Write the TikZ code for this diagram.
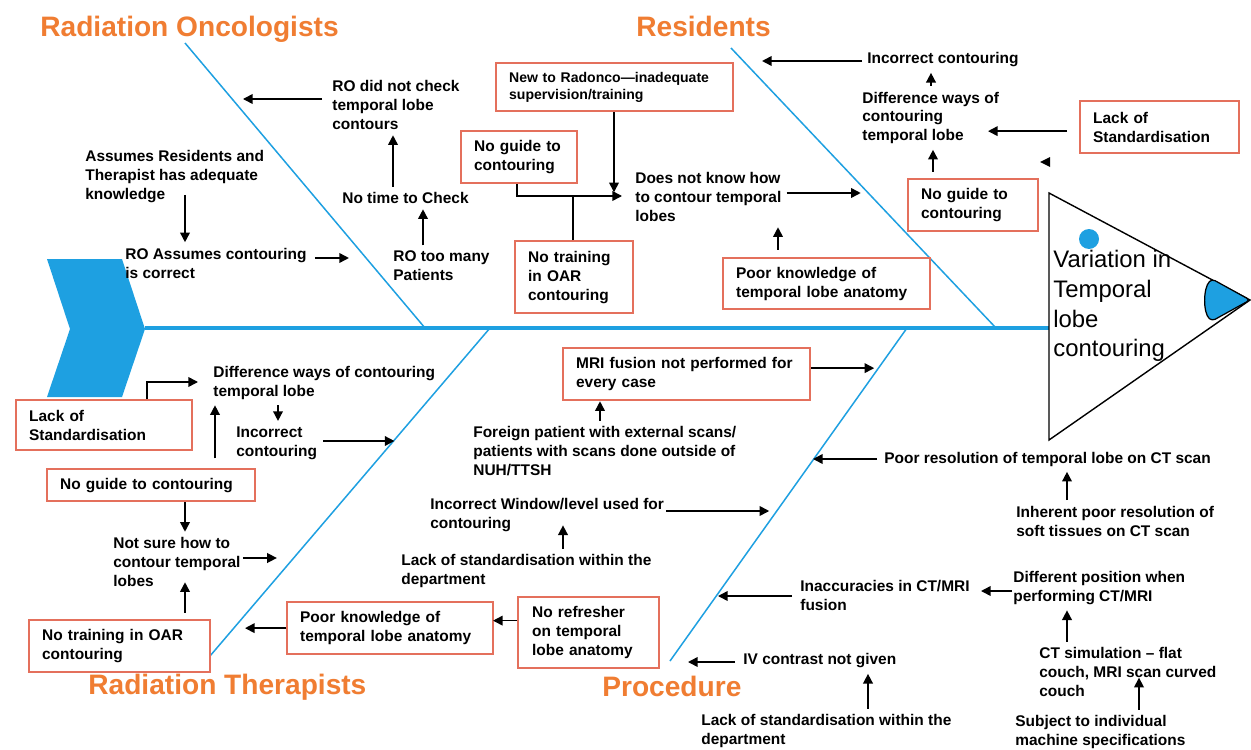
\documentclass[tikz,border=0pt]{standalone}
\usepackage{fontspec}
\setmainfont{Liberation Sans}
\usetikzlibrary{arrows.meta, calc}
\definecolor{fishblue}{RGB}{30,160,225}
\definecolor{causered}{RGB}{228,112,92}
\definecolor{grouporange}{RGB}{240,125,50}

\begin{document}
\begin{tikzpicture}[x=0.02cm, y=-0.02cm,
	txt/.style={font=\bfseries\fontsize{8.8}{10.8}\selectfont, align=left, inner xsep=0pt, inner ysep=3pt, anchor=west},
	cause/.style={draw=causered, line width=1.3pt, font=\bfseries\fontsize{8.8}{10.8}\selectfont, align=left, inner xsep=0.26cm, inner ysep=0pt, anchor=north west},
	group/.style={font=\bfseries\fontsize{16}{19}\selectfont, text=grouporange, inner sep=0pt, anchor=west},
	bone/.style={fishblue, line width=0.85pt},
	arr/.style={-{Triangle[length=5.5pt, width=5.5pt]}, line width=0.9pt}]
\fill[white] (0,0) rectangle (1251,750);
\useasboundingbox (0,0) rectangle (1251,750);

\fill[fishblue] (47,259) -- (122,259) -- (145,329) -- (122,397) -- (47,397) -- (70,329) -- cycle;
\coordinate (tail) at (145,328);
\coordinate (mouth) at (1049,328);
\draw[fishblue, line width=2pt] (tail) -- (mouth);
\draw[bone] (185,43) -- (425,328);
\draw[bone] (731,48) -- (996,328);
\draw[bone] (490,328) -- (210,656);
\draw[bone] (907,328) -- (670,661);

\draw[line width=0.8pt] (1049,193) -- (1250,300) -- (1049,440) -- cycle;
\filldraw[fill=fishblue, line width=0.7pt, rounded corners=2pt] (1250,300) -- (1212,279) .. controls (1203,288) and (1203,313) .. (1212,321) -- cycle;
\fill[fishblue] (1089,239) circle (0.2cm);
\node[font=\fontsize{13.6}{17}\selectfont, align=left, inner sep=0pt, anchor=west] (effect) at (1053,306) {Variation in\\Temporal\\lobe\\contouring};

\node[group] (gRO) at (40,29) {Radiation Oncologists};
\node[group] (gRes) at (636,26) {Residents};
\node[group] (gRT) at (88,687) {Radiation Therapists};
\node[group] (gProc) at (602,686) {Procedure};

\node[txt] (roCheck) at (332,105) {RO did not check\\temporal lobe\\contours};
\node[txt] (roTime) at (342,198) {No time to Check};
\node[txt] (roMany) at (393,266) {RO too many\\Patients};
\node[txt] (roKnow) at (85,177) {Assumes Residents and\\Therapist has adequate\\knowledge};
\node[txt] (roAssume) at (125,263) {RO Assumes contouring\\is correct};

\node[cause, text width=4.22cm, minimum height=0.96cm, font=\bfseries\fontsize{8}{9.6}\selectfont] (resNew) at (495,62) {New to Radonco—inadequate\\supervision/training};
\node[cause, text width=1.8cm, minimum height=1.04cm] (resGuide) at (460,130) {No guide to\\contouring};
\node[cause, text width=1.84cm, minimum height=1.44cm] (resTrain) at (514,240) {No training\\in OAR\\contouring};
\node[txt] (resHow) at (635,197) {Does not know how\\to contour temporal\\lobes};
\node[cause, text width=3.62cm, minimum height=1.02cm] (resAnat) at (722,257) {Poor knowledge of\\temporal lobe anatomy};
\node[txt] (resWrong) at (867,60) {Incorrect contouring};
\node[txt] (resWays) at (862,118) {Difference ways of\\contouring\\temporal lobe};
\node[cause, text width=2.66cm, minimum height=1.04cm] (resStd) at (1079,100) {Lack of\\Standardisation};
\node[cause, text width=2.08cm, minimum height=1.04cm] (resGuideB) at (907,178) {No guide to\\contouring};

\node[cause, text width=3cm, minimum height=1cm] (rtStd) at (15,399) {Lack of\\Standardisation};
\node[txt] (rtWays) at (213,383) {Difference ways of contouring\\temporal lobe};
\node[txt] (rtWrong) at (236,443) {Incorrect\\contouring};
\node[cause, text width=3.64cm, minimum height=0.64cm] (rtGuide) at (46,468) {No guide to contouring};
\node[txt] (rtSure) at (113,562) {Not sure how to\\contour temporal\\lobes};
\node[cause, text width=3.1cm, minimum height=1.04cm] (rtTrain) at (28,619) {No training in OAR\\contouring};
\node[cause, text width=3.6cm, minimum height=1.04cm] (rtAnat) at (286,601) {Poor knowledge of\\temporal lobe anatomy};
\node[cause, text width=2.26cm, minimum height=1.42cm, inner xsep=0.28cm] (rtRefresh) at (517,596) {No refresher\\on temporal\\lobe anatomy};

\node[cause, text width=4.42cm, minimum height=1.04cm] (prMri) at (562,347) {MRI fusion not performed for\\every case};
\node[txt] (prForeign) at (473,451) {Foreign patient with external scans/\\patients with scans done outside of\\NUH/TTSH};
\node[txt] (prWindow) at (430,515) {Incorrect Window/level used for\\contouring};
\node[txt] (prStd) at (401,571) {Lack of standardisation within the\\department};
\node[txt] (prRes) at (884,459) {Poor resolution of temporal lobe on CT scan};
\node[txt] (prSoft) at (1016,521) {Inherent poor resolution of\\soft tissues on CT scan};
\node[txt] (prFusion) at (800,595) {Inaccuracies in CT/MRI\\fusion};
\node[txt] (prPos) at (1013,588) {Different position when\\performing CT/MRI};
\node[txt] (prSim) at (1039,672) {CT simulation – flat\\couch, MRI scan curved\\couch};
\node[txt] (prMach) at (1015,732) {Subject to individual\\machine specifications};
\node[txt] (prIV) at (743,661) {IV contrast not given};
\node[txt] (prStdB) at (701,731) {Lack of standardisation within the\\department};

\draw[arr] ($(roCheck.west)+(-10,-6)$) -- ++(-79,0);
\draw[arr] (roTime.north -| 393,0) -- (roCheck.south -| 393,0);
\draw[arr] (roMany.north -| 423,0) -- (roTime.south -| 423,0);
\draw[arr] ($(roKnow.south -| 185,0)+(0,-14)$) -- (roAssume.north -| 185,0);
\draw[arr] ($(roAssume.east)+(8,-5)$) -- ++(34,0);

\draw[arr] (resNew.south -| 614,0) -- ++(0,80);
\draw[arr] (resGuide.south -| 517,0) |- ($(resHow.west)+(-13,-1)$);
\draw[line width=0.9pt] (resTrain.north -| 573,0) -- ++(0,-44);
\draw[arr] ($(resHow.east)+(5,-4)$) -- ++(74,0);
\draw[arr, shorten <=4pt] (resAnat.north -| 778,0) -- (resHow.south -| 778,0);
\draw[arr] ($(resWrong.west)+(-5,1)$) -- ++(-100,0);
\draw[arr] (resWays.north -| 931,0) -- (resWrong.south -| 931,0);
\draw[arr] ($(resStd.west)+(-12,4)$) -- ++(-79,0);
\draw[arr, shorten <=3.5pt] (resGuideB.north -| 933,0) -- (resWays.south -| 933,0);
\fill (1040,162) -- ++(10,-5) -- ++(0,10) -- cycle;

\draw[arr] (rtStd.north -| 147,0) |- ($(rtWays.west)+(-15,-1)$);
\draw[arr] (rtWays.south -| 278,0) -- (rtWrong.north -| 278,0);
\draw[arr] ($(rtWrong.east)+(6,-2)$) -- ++(71,0);
\draw[arr, shorten <=5.5pt] (rtGuide.north -| 215,0) -- (rtWays.south -| 215,0);
\draw[arr] (rtGuide.south -| 185,0) -- (rtSure.north -| 185,0);
\draw[arr] ($(rtSure.east)+(2,-4)$) -- ++(34,0);
\draw[arr, shorten <=3.5pt] (rtTrain.north -| 185,0) -- ($(rtSure.south -| 185,0)+(0,-10)$);
\draw[arr] (rtAnat.west) -- ++(-41,0);
\draw[arr] ($(rtRefresh.west)+(0,-12)$) -- ++(-24,0);

\draw[arr] ($(prMri.east)+(0,-6)$) -- ++(63,0);
\draw[arr] (prForeign.north -| 600,0) -- (prMri.south -| 600,0);
\draw[arr] ($(prWindow.east)+(2,-4)$) -- ++(103,0);
\draw[arr] (prStd.north -| 563,0) -- ($(prWindow.south -| 563,0)+(0,-12)$);
\draw[arr] ($(prRes.west)+(-7,0)$) -- ++(-64,0);
\draw[arr] (prSoft.north -| 1067,0) -- (prRes.south -| 1067,0);
\draw[arr] ($(prFusion.west)+(-8,1)$) -- ++(-74,0);
\draw[arr] ($(prPos.west)+(-1,3)$) -- ++(-31,0);
\draw[arr] (prSim.north -| 1067,0) -- (prPos.south -| 1067,0);
\draw[arr] (prMach.north -| 1139,0) -- ++(0,-32);
\draw[arr] ($(prIV.west)+(-8,1)$) -- ++(-47,0);
\draw[arr] (prStdB.north -| 868,0) -- (prIV.south -| 868,0);
\end{tikzpicture}
\end{document}
